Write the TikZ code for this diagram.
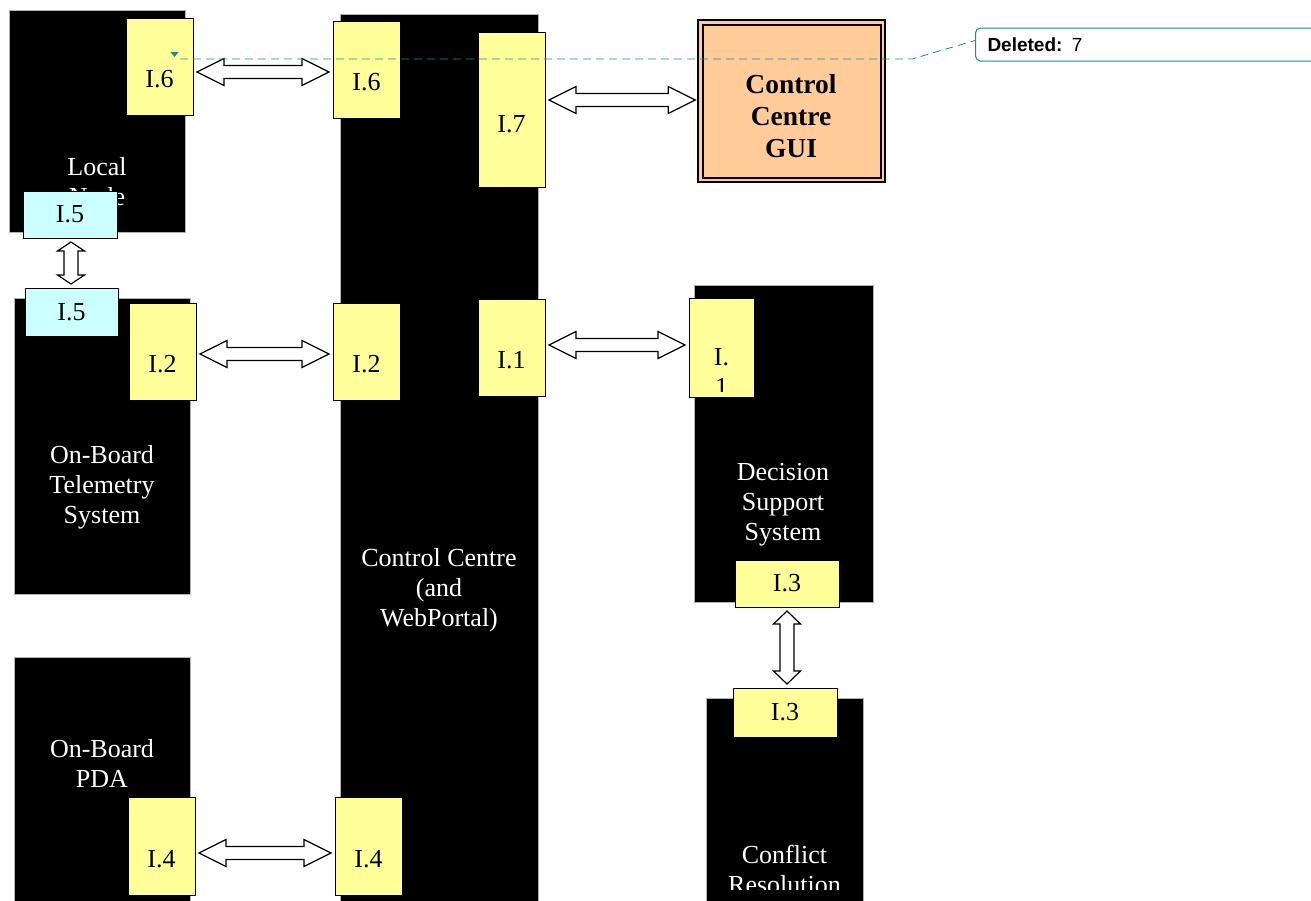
\documentclass[tikz,border=0pt]{standalone}
\usepackage{fontspec}
\setmainfont{Liberation Serif}
\setsansfont{Liberation Sans}
\usepackage{tikz}
\usetikzlibrary{calc}

\definecolor{portyellow}{HTML}{FFFF99}
\definecolor{portcyan}{HTML}{CCFFFF}
\definecolor{guiorange}{HTML}{FFCC99}
\definecolor{noteteal}{HTML}{1A8C8C}

% hollow double-headed block arrows between two named nodes
\newcommand{\hlink}[3]{%
  \draw[link] let \p1=(#1.east), \p2=(#2.west), \p3=(0,#3) in
    (\x1+4pt,\y3) -- (\x1+31pt,\y3+13.5pt) -- (\x1+31pt,\y3+6.5pt)
    -- (\x2-31pt,\y3+6.5pt) -- (\x2-31pt,\y3+13.5pt) -- (\x2-4pt,\y3)
    -- (\x2-31pt,\y3-13.5pt) -- (\x2-31pt,\y3-6.5pt)
    -- (\x1+31pt,\y3-6.5pt) -- (\x1+31pt,\y3-13.5pt) -- cycle;}
\newcommand{\vlink}[4]{%
  \draw[link] let \p1=(#1.south), \p2=(#2.north), \p3=(#3,0) in
    (\x3,\y1-4pt) -- (\x3+13.5pt,\y1-4pt-#4) -- (\x3+7pt,\y1-4pt-#4)
    -- (\x3+7pt,\y2+4pt+#4) -- (\x3+13.5pt,\y2+4pt+#4) -- (\x3,\y2+4pt)
    -- (\x3-13.5pt,\y2+4pt+#4) -- (\x3-7pt,\y2+4pt+#4)
    -- (\x3-7pt,\y1-4pt-#4) -- (\x3-13.5pt,\y1-4pt-#4) -- cycle;}

\begin{document}
\begin{tikzpicture}[
        x=1pt,
        y=-1pt,
        font=\fontsize{26}{30}\selectfont,
        box size/.style 2 args={minimum width=#1, minimum height=#2},
        unit/.style={fill=black, draw=gray!60, line width=0.6pt, inner sep=0pt, outer sep=0pt},
        caption/.style={text=white, align=center},
        port/.style={fill=portyellow, draw=black, line width=1pt, inner sep=0pt, outer sep=0pt},
        tall/.style={port, text height=42pt, text depth=0pt},
        peer/.style={port, fill=portcyan},
        gui/.style={fill=guiorange, draw=black, line width=2pt, double=guiorange, double distance=2.5pt, inner sep=0pt},
        link/.style={draw=black, fill=white, line width=1.2pt, line join=miter},
        note/.style={noteteal, dash pattern=on 8pt off 5pt, line width=0.8pt},
        comment/.style={draw=noteteal, fill=white, rounded corners=5pt, line width=1pt, anchor=west,
            font=\sffamily\fontsize{19}{22}\selectfont, align=left, text width=340pt, inner xsep=12pt, minimum height=33}
    ]
        \useasboundingbox (0,0) rectangle (1311,900);
        \clip (0,0) rectangle (1311,900);

        % systems
        \node[unit, box size={176}{222}] (local) at (97,121) {};
        \node[unit, box size={176}{296}] (obts) at (102,446) {};
        \node[unit, box size={176}{250}] (pda) at (102,782) {};
        \node[unit, box size={198}{893}] (cc) at (439,460.5) {};
        \node[unit, box size={179}{317}] (dss) at (783.5,443.5) {};
        \node[unit, box size={157}{210}] (cr) at (784.5,803) {};

        \node[caption] (localtxt) at (97,182) {Local\\Node};
        \node[caption] (obtstxt) at (102,487) {On-Board\\Telemetry\\System};
        \node[caption] (cctxt) at (439,590) {Control Centre\\(and\\WebPortal)};
        \node[caption] (pdatxt) at (102,763) {On-Board\\PDA};
        \node[caption] (dsstxt) at (783,505) {Decision\\Support\\System};
        \begin{scope}
            \clip (700,700) rectangle (870,889);
            \node[caption] (crtxt) at (784.5,869) {Conflict\\Resolution};
        \end{scope}

        % interfaces
        \node[tall, box size={67}{97}] (l6) at (159.5,66.5) {I.6};
        \node[tall, box size={67}{97}] (c6) at (366.5,69.5) {I.6};
        \node[tall, box size={67}{155}, text height=46pt] (c7) at (511.5,109.5) {I.7};
        \node[tall, box size={67}{97}] (l2) at (162.5,351.5) {I.2};
        \node[tall, box size={67}{97}] (c2) at (366.5,351.5) {I.2};
        \node[tall, box size={67}{97}] (c1) at (511.5,347.5) {I.1};
        \node[port, box size={65}{99}, path picture={
            \clip ([yshift=6pt]path picture bounding box.south west) rectangle (path picture bounding box.north east);
            \node[fill=none, draw=none, align=center] at ([yshift=-24pt]path picture bounding box.center) {I.\\1};
        }] (d1) at (721.5,347.5) {};
        \node[port, box size={104}{47}] (d3) at (787,583.5) {I.3};
        \node[port, box size={104}{49}] (r3) at (785,712.5) {I.3};
        \node[tall, box size={67}{98}] (p4) at (161.5,846) {I.4};
        \node[tall, box size={67}{98}] (c4) at (368.5,846) {I.4};
        \node[peer, box size={94}{47}] (n5) at (70,214.5) {I.5};
        \node[peer, box size={93}{48}] (t5) at (71.5,312) {I.5};

        \node[gui, box size={182.5}{157.5}] (gui) at (791.5,101) {};
        \node[font=\fontsize{27.5}{32}\selectfont\bfseries, align=center] (guitxt) at (791,116) {Control\\Centre\\GUI};

        \hlink{l6}{c6}{72}
        \hlink{l2}{c2}{354}
        \hlink{c7}{gui}{100}
        \hlink{c1}{d1}{345}
        \hlink{p4}{c4}{853}
        \vlink{n5}{t5}{71}{9pt}
        \vlink{d3}{r3}{787}{13pt}

        % tracked change
        \node[comment] (cmt) at (975,44.5) {\textbf{Deleted:} 7};
        \fill[noteteal] (170.5,52) -- (178.5,52) -- (174.5,57) -- cycle;
        \coordinate (mk) at (180,59);
        \draw[note] (mk) -- (912,59) -- ([yshift=4pt]cmt.west);
    \end{tikzpicture}
\end{document}
